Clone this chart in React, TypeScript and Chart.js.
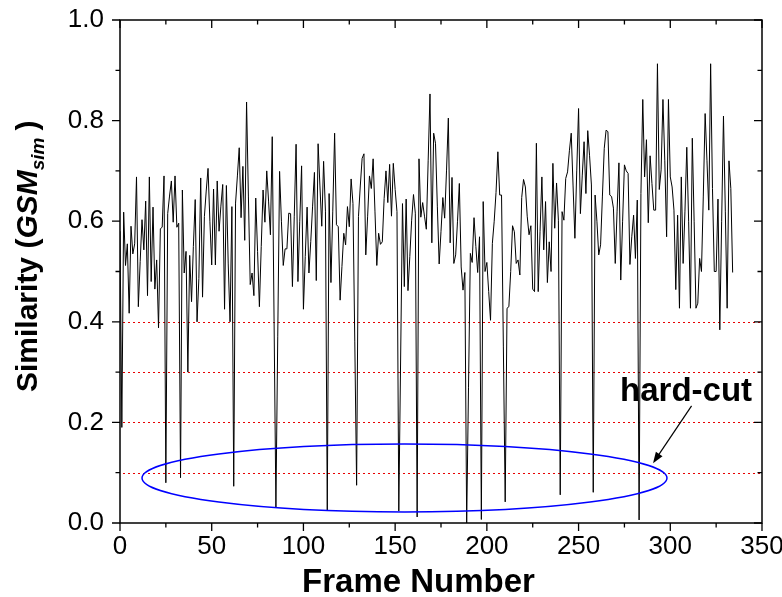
import React, { useEffect, useRef } from "react";
import { Chart, registerables } from "chart.js";

Chart.register(...registerables);

// Similarity (GSM_sim) per frame, frames 0..334
const similarity: number[] = [
  0.58, 0.19, 0.618, 0.512, 0.555, 0.417, 0.59, 0.535, 0.555, 0.688,
  0.43, 0.52, 0.603, 0.543, 0.64, 0.452, 0.688, 0.48, 0.628, 0.465,
  0.523, 0.388, 0.585, 0.588, 0.69, 0.08, 0.615, 0.65, 0.68, 0.598,
  0.69, 0.588, 0.596, 0.09, 0.662, 0.497, 0.54, 0.30, 0.532, 0.44,
  0.55, 0.643, 0.40, 0.486, 0.686, 0.449, 0.609, 0.66, 0.705, 0.6,
  0.513, 0.664, 0.513, 0.68, 0.58, 0.63, 0.673, 0.425, 0.671, 0.515,
  0.40, 0.629, 0.073, 0.636, 0.69, 0.746, 0.607, 0.709, 0.562, 0.837,
  0.65, 0.474, 0.497, 0.452, 0.646, 0.54, 0.43, 0.55, 0.662, 0.598,
  0.70, 0.64, 0.573, 0.768, 0.40, 0.03, 0.37, 0.699, 0.6, 0.512,
  0.545, 0.545, 0.616, 0.615, 0.47, 0.61, 0.753, 0.48, 0.6, 0.71,
  0.425, 0.53, 0.628, 0.497, 0.56, 0.63, 0.697, 0.482, 0.754, 0.67,
  0.59, 0.719, 0.62, 0.024, 0.655, 0.478, 0.62, 0.775, 0.593, 0.589,
  0.443, 0.51, 0.576, 0.553, 0.629, 0.589, 0.684, 0.635, 0.36, 0.075,
  0.609, 0.67, 0.725, 0.734, 0.533, 0.61, 0.69, 0.665, 0.724, 0.62,
  0.512, 0.576, 0.554, 0.559, 0.645, 0.70, 0.637, 0.713, 0.61, 0.715,
  0.663, 0.619, 0.024, 0.33, 0.635, 0.47, 0.644, 0.462, 0.53, 0.602,
  0.653, 0.616, 0.012, 0.724, 0.608, 0.637, 0.61, 0.584, 0.72, 0.853,
  0.557, 0.775, 0.755, 0.63, 0.515, 0.58, 0.647, 0.606, 0.7, 0.805,
  0.557, 0.687, 0.516, 0.533, 0.6, 0.675, 0.509, 0.463, 0.498, 0.0,
  0.27, 0.536, 0.518, 0.607, 0.55, 0.498, 0.569, 0.007, 0.639, 0.5,
  0.518, 0.46, 0.403, 0.556, 0.6, 0.657, 0.738, 0.652, 0.652, 0.35,
  0.042, 0.427, 0.43, 0.5, 0.591, 0.579, 0.516, 0.523, 0.493, 0.647,
  0.683, 0.668, 0.61, 0.573, 0.591, 0.465, 0.46, 0.755, 0.46, 0.58,
  0.688, 0.543, 0.639, 0.478, 0.559, 0.5, 0.715, 0.586, 0.676, 0.602,
  0.056, 0.619, 0.602, 0.685, 0.698, 0.74, 0.775, 0.67, 0.566, 0.7,
  0.824, 0.615, 0.69, 0.758, 0.655, 0.78, 0.73, 0.672, 0.061, 0.652,
  0.6, 0.533, 0.553, 0.65, 0.745, 0.781, 0.778, 0.652, 0.649, 0.626,
  0.516, 0.62, 0.716, 0.483, 0.6, 0.712, 0.7, 0.695, 0.514, 0.569,
  0.612, 0.526, 0.642, 0.006, 0.655, 0.842, 0.688, 0.762, 0.597, 0.73,
  0.675, 0.622, 0.622, 0.913, 0.663, 0.702, 0.842, 0.72, 0.569, 0.842,
  0.688, 0.668, 0.622, 0.464, 0.612, 0.427, 0.688, 0.516, 0.62, 0.747,
  0.6, 0.427, 0.765, 0.6, 0.427, 0.437, 0.526, 0.5, 0.65, 0.814,
  0.72, 0.622, 0.913, 0.665, 0.5, 0.5, 0.644, 0.384, 0.6, 0.809,
  0.62, 0.427, 0.72, 0.665, 0.498,
];
const frames: number[] = similarity.map((_, i) => i);

// Axis ticks
const xMajorTicks: number[] = [0, 50, 100, 150, 200, 250, 300, 350];
const xMinorTicks: number[] = [25, 75, 125, 175, 225, 275, 325];
const yMajorTicks: number[] = [0, 0.2, 0.4, 0.6, 0.8, 1.0];
const yMinorTicks: number[] = [0.1, 0.3, 0.5, 0.7, 0.9];

// Red dotted threshold lines
const thresholds: number[] = [0.1, 0.2, 0.3, 0.4];

// Annotation (data coordinates)
const ellipseCenter = { x: 155.1, y: 0.0895 };
const ellipseRadius = { x: 143.1, y: 0.0676 };
const arrowFrom = { x: 311.6, y: 0.233 };
const arrowTo = { x: 290.6, y: 0.119 };
const labelPos = { x: 272.6, y: 0.2425 };
const labelText = "hard-cut";

const FONT = '"Liberation Sans", Arial, Helvetica, sans-serif';

const decorations = {
  id: "decorations",
  beforeDatasetsDraw(chart: any) {
    const { ctx, chartArea, scales } = chart;
    const ys = scales.y;
    ctx.save();
    ctx.strokeStyle = "#e80000";
    ctx.lineWidth = 1;
    ctx.setLineDash([2, 3]);
    thresholds.forEach((t) => {
      const py = Math.round(ys.getPixelForValue(t)) + 0.5;
      ctx.beginPath();
      ctx.moveTo(chartArea.left + 3, py);
      ctx.lineTo(chartArea.right, py);
      ctx.stroke();
    });
    ctx.restore();
  },
  afterDraw(chart: any) {
    const { ctx, chartArea, scales } = chart;
    const xs = scales.x;
    const ys = scales.y;
    const L = chartArea.left, R = chartArea.right, T = chartArea.top, B = chartArea.bottom;
    ctx.save();
    // Frame
    ctx.strokeStyle = "#000";
    ctx.lineWidth = 1.5;
    ctx.strokeRect(L, T, R - L, B - T);
    // Ticks
    ctx.lineWidth = 1.3;
    const major = 8, minor = 4.5;
    ctx.beginPath();
    yMajorTicks.forEach((v) => {
      const py = ys.getPixelForValue(v);
      ctx.moveTo(L, py); ctx.lineTo(L - major, py);
      ctx.moveTo(R, py); ctx.lineTo(R - major, py);
    });
    yMinorTicks.forEach((v) => {
      const py = ys.getPixelForValue(v);
      ctx.moveTo(L, py); ctx.lineTo(L - minor, py);
      ctx.moveTo(R, py); ctx.lineTo(R - minor, py);
    });
    xMajorTicks.forEach((v) => {
      const px = xs.getPixelForValue(v);
      ctx.moveTo(px, B); ctx.lineTo(px, B + major);
      ctx.moveTo(px, T); ctx.lineTo(px, T + major);
    });
    xMinorTicks.forEach((v) => {
      const px = xs.getPixelForValue(v);
      ctx.moveTo(px, B); ctx.lineTo(px, B + minor);
      ctx.moveTo(px, T); ctx.lineTo(px, T + minor);
    });
    ctx.stroke();

    // Ellipse
    const cx = xs.getPixelForValue(ellipseCenter.x);
    const cy = ys.getPixelForValue(ellipseCenter.y);
    const rx = xs.getPixelForValue(ellipseCenter.x + ellipseRadius.x) - cx;
    const ry = cy - ys.getPixelForValue(ellipseCenter.y + ellipseRadius.y);
    ctx.strokeStyle = "#0000ff";
    ctx.lineWidth = 1.5;
    ctx.beginPath();
    ctx.ellipse(cx, cy, rx, ry, 0, 0, Math.PI * 2);
    ctx.stroke();

    // Arrow
    const ax = xs.getPixelForValue(arrowFrom.x), ay = ys.getPixelForValue(arrowFrom.y);
    const bx = xs.getPixelForValue(arrowTo.x), by = ys.getPixelForValue(arrowTo.y);
    const ang = Math.atan2(by - ay, bx - ax);
    const hl = 11, hw = 4;
    ctx.strokeStyle = "#000";
    ctx.fillStyle = "#000";
    ctx.lineWidth = 1.2;
    ctx.beginPath();
    ctx.moveTo(ax, ay);
    ctx.lineTo(bx - Math.cos(ang) * hl * 0.8, by - Math.sin(ang) * hl * 0.8);
    ctx.stroke();
    ctx.beginPath();
    ctx.moveTo(bx, by);
    ctx.lineTo(bx - Math.cos(ang) * hl - Math.sin(ang) * hw, by - Math.sin(ang) * hl + Math.cos(ang) * hw);
    ctx.lineTo(bx - Math.cos(ang) * hl + Math.sin(ang) * hw, by - Math.sin(ang) * hl - Math.cos(ang) * hw);
    ctx.closePath();
    ctx.fill();

    // hard-cut label
    ctx.font = `bold 33px ${FONT}`;
    ctx.textAlign = "left";
    ctx.textBaseline = "alphabetic";
    ctx.fillText(labelText, xs.getPixelForValue(labelPos.x), ys.getPixelForValue(labelPos.y));

    // X title
    ctx.font = `bold 33px ${FONT}`;
    ctx.textAlign = "center";
    ctx.fillText("Frame Number", 418.5, 592);

    // Y title (rotated, with italic and subscript)
    ctx.translate(37, 392);
    ctx.rotate(-Math.PI / 2);
    ctx.textAlign = "left";
    let x = 0;
    ctx.font = `bold 30px ${FONT}`;
    ctx.fillText("Similarity (", x, 0);
    x += ctx.measureText("Similarity (").width;
    ctx.font = `italic bold 30px ${FONT}`;
    ctx.fillText("GSM", x, 0);
    x += ctx.measureText("GSM").width;
    ctx.font = `italic bold 19px ${FONT}`;
    ctx.fillText("sim", x, 7);
    x += ctx.measureText("sim").width + 7;
    ctx.font = `bold 30px ${FONT}`;
    ctx.fillText(")", x, 0);
    ctx.restore();
  },
};

export default function App() {
  const ref = useRef<HTMLCanvasElement>(null);
  useEffect(() => {
    if (!ref.current) return;
    const tickFont = { family: FONT, size: 26 };
    const chart = new Chart(ref.current, {
      type: "line",
      data: {
        datasets: [
          {
            data: similarity.map((v, i) => ({ x: frames[i], y: v })),
            borderColor: "#000",
            borderWidth: 1,
            pointRadius: 0,
            tension: 0,
            fill: false,
          },
        ],
      },
      options: {
        animation: false,
        responsive: false,
        devicePixelRatio: 1,
        layout: { padding: { left: 0, right: 20, top: 20, bottom: 0 } },
        plugins: {
          legend: { display: false },
          tooltip: { enabled: false },
          title: { display: false },
        },
        scales: {
          x: {
            type: "linear",
            min: 0,
            max: 350,
            ticks: {
              stepSize: 50,
              font: tickFont,
              color: "#000",
              padding: 8,
              maxRotation: 0,
              autoSkip: false,
            },
            grid: { display: false, drawTicks: false, tickLength: 0 },
            border: { display: false },
            afterFit: (s: any) => {
              s.height = 74;
              s.paddingLeft = 0;
              s.paddingRight = 0;
            },
          },
          y: {
            min: 0,
            max: 1,
            ticks: {
              stepSize: 0.2,
              font: tickFont,
              color: "#000",
              padding: 16,
              callback: (v: any) => Number(v).toFixed(1),
            },
            grid: { display: false, drawTicks: false, tickLength: 0 },
            border: { display: false },
            afterFit: (s: any) => {
              s.width = 120;
              s.paddingTop = 0;
              s.paddingBottom = 0;
            },
          },
        },
      },
      plugins: [decorations],
    });
    return () => chart.destroy();
  }, []);
  return (
    <div style={{ position: "fixed", left: 0, top: 0, width: 782, height: 597, background: "#fff" }}>
      <canvas ref={ref} width={782} height={597} style={{ width: 782, height: 597, display: "block" }} />
    </div>
  );
}
